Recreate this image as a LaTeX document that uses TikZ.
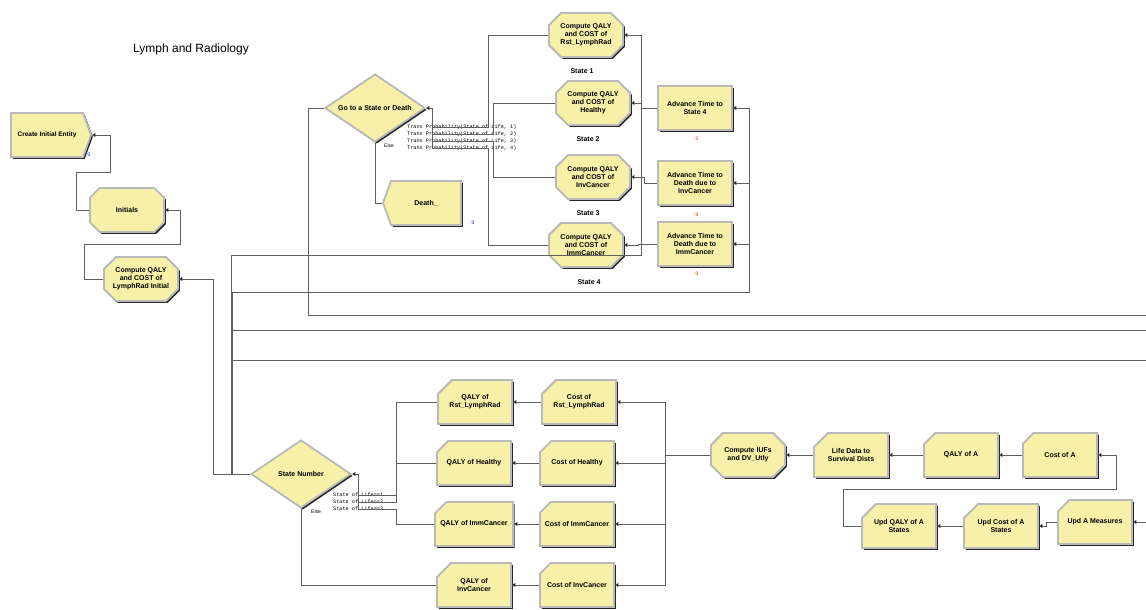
\documentclass[tikz,border=0pt]{standalone}
\usepackage{fontspec}
\setmainfont{Liberation Sans}
\setmonofont{Liberation Mono}
\usetikzlibrary{shapes.geometric,shapes.misc,shapes.symbols,shadows,arrows.meta,calc}
\definecolor{modyellow}{RGB}{246,240,168}
\definecolor{linegray}{RGB}{95,95,95}

\begin{document}
\begin{tikzpicture}[x=1pt,y=-1pt,
  mod/.style={fill=modyellow,draw=gray!55,line width=1.8pt,
    drop shadow={shadow xshift=1.8pt,shadow yshift=-1.8pt,fill=black!85,opacity=1},
    font=\bfseries\fontsize{7}{7.8}\selectfont,align=center,inner sep=1pt,
    minimum width=74pt,minimum height=44pt},
  assignbox/.style={mod,chamfered rectangle,chamfered rectangle xsep=6pt,chamfered rectangle ysep=6pt},
  processbox/.style={mod,rectangle},
  recordbox/.style={mod,chamfered rectangle,chamfered rectangle corners=north west,
    chamfered rectangle xsep=7pt,chamfered rectangle ysep=7pt},
  decidebox/.style={mod,diamond,aspect=1.5,minimum width=100pt,minimum height=68pt,inner sep=0pt},
  createbox/.style={mod,signal,signal to=east,signal pointer angle=140,minimum width=80pt,
    font=\bfseries\fontsize{6.5}{7.4}\selectfont},
  disposebox/.style={mod,signal,signal to=west,signal pointer angle=140,minimum width=78pt},
  conn/.style={draw=linegray,line width=0.5pt},
  outconn/.style={conn,{Triangle[length=3.5pt,width=4pt,fill=black]}-},
  lbl/.style={font=\bfseries\fontsize{7}{8}\selectfont,inner sep=0pt},
  cond/.style={font=\ttfamily\fontsize{5.2}{6}\selectfont,anchor=west,inner sep=0pt},
  elselbl/.style={font=\fontsize{5}{6}\selectfont,anchor=west,inner sep=0pt},
  cnt/.style={font=\fontsize{5}{5}\selectfont,inner sep=0pt}]
\useasboundingbox (0,0) rectangle (1146,610);

\node[font=\fontsize{12}{14}\selectfont] (title) at (191,49) {Lymph and Radiology};

\node[createbox] (create) at (47,135) {Create Initial Entity};
\node[assignbox] (initials) at (127,210) {Initials};
\node[assignbox] (cinit) at (141,279) {Compute QALY\\and COST of\\LymphRad Initial};

\node[decidebox] (goto) at (375,108) {Go to a State or Death};
\node[disposebox] (death) at (426,203) {Death\_};
\node[assignbox] (c1) at (586,35) {Compute QALY\\and COST of\\Rst\_LymphRad};
\node[assignbox] (c2) at (593,103) {Compute QALY\\and COST of\\Healthy};
\node[assignbox] (c3) at (593,177) {Compute QALY\\and COST of\\InvCancer};
\node[assignbox] (c4) at (586,245) {Compute QALY\\and COST of\\ImmCancer};
\node[processbox] (a4) at (695,108) {Advance Time to\\State 4};
\node[processbox] (ainv) at (695,183) {Advance Time to\\Death due to\\InvCancer};
\node[processbox] (aimm) at (695,244) {Advance Time to\\Death due to\\ImmCancer};

\node[decidebox] (snum) at (301,474) {State Number};
\node[recordbox] (q1) at (475,402) {QALY of\\Rst\_LymphRad};
\node[recordbox] (k1) at (579,402) {Cost of\\Rst\_LymphRad};
\node[recordbox] (q2) at (474,463) {QALY of Healthy};
\node[recordbox] (k2) at (577,463) {Cost of Healthy};
\node[recordbox] (q3) at (474,524) {QALY of ImmCancer};
\node[recordbox] (k3) at (577,524) {Cost of ImmCancer};
\node[recordbox] (q4) at (474,585) {QALY of\\InvCancer};
\node[recordbox] (k4) at (577,585) {Cost of InvCancer};

\node[assignbox] (iufs) at (748,455) {Compute IUFs\\and DV\_Utly};
\node[recordbox] (ldata) at (851,455) {Life Data to\\Survival Dists};
\node[recordbox] (qa) at (961,455) {QALY of A};
\node[recordbox] (ka) at (1060,455) {Cost of A};
\node[recordbox] (uqa) at (899,526) {Upd QALY of A\\States};
\node[recordbox] (uka) at (1001,526) {Upd Cost of A\\States};
\node[recordbox] (uam) at (1095,522) {Upd A Measures};

\foreach \i/\x/\y in {1/582/71,2/588/139,3/588/213,4/589/282}{\node[lbl] (st\i) at (\x,\y) {State \i};}
\foreach \i/\y in {1/127,2/134,3/141,4/148}{\node[cond] (tp\i) at (407,\y) {Trans Probability(State of Life, \i)};}
\foreach \i/\y in {1/495,2/502,3/509}{\node[cond] (sl\i) at (333,\y) {State of Life==\i};}
\node[elselbl] (else1) at (384,146) {Else};
\node[elselbl] (else2) at (311,512) {Else};
\foreach \n/\x/\y/\c in {zc/89/155/blue,zd/473/223/blue,z4/697/139/red,zinv/697/215/red,zimm/697/274/red}{\node[cnt,text=\c] (\n) at (\x,\y) {0};}

\coordinate (r1) at (1146,315); \coordinate (r2) at (1146,330); \coordinate (r3) at (1146,360); \coordinate (r4) at (1146,522);
\coordinate (gx) at ([xshift=6pt]goto.east); \coordinate (sx) at ([xshift=6pt]snum.east);

\draw[outconn] (create.east) -- ++(18,0) |- ++(-34,37) |- (initials.west);
\draw[outconn] (initials.east) -- ++(15,0) |- ++(-96,34) |- (cinit.west);
\draw[outconn] (cinit.east) -- ++(34,0) |- (snum.west);
\draw[outconn] (c1.east) -- ++(17,0) |- ++(-410,220) |- (snum.west);
\draw[outconn] (a4.east) -- ++(16,0) |- ++(-517,184) |- (snum.west);
\draw[outconn] (ainv.east) -- ++(16,0);
\draw[outconn] (aimm.east) -- ++(16,0);
\draw[conn] (r1) -| ([xshift=-16pt]goto.west) -- (goto.west);
\draw[conn] (r2) -| ([xshift=-18pt]snum.west) -- (snum.west);
\draw[conn] (r3) -| ([xshift=-18pt]snum.west);

\draw[outconn] (goto.east) -- (gx) -- (gx |- tp4.west);
\foreach \i/\dx in {1/56,2/61,3/61,4/56}{\draw[conn] (gx |- tp\i.west) -- ++(\dx,0) |- (c\i.west);}
\draw[conn] (goto.south) |- (death.west);
\draw[outconn] (c2.east) -- ++(10,0) |- (a4.west);
\draw[outconn] (c3.east) -- ++(13,0) |- (ainv.west);
\draw[outconn] (c4.east) -- ++(14,0) |- (aimm.west);

\draw[outconn] (snum.east) -- (sx) -- (sx |- sl3.west);
\foreach \i in {1,2,3}{\draw[conn] (sx |- sl\i.west) -- ++(38,0) |- (q\i.west);}
\draw[conn] (snum.south) |- (q4.west);
\foreach \i in {1,...,4}{
  \draw[outconn] (q\i.east) -- (k\i.west);
  \draw[outconn] (k\i.east) -| ([xshift=-45pt]iufs.west) -- (iufs.west);
}
\draw[outconn] (iufs.east) -- (ldata.west);
\draw[outconn] (ldata.east) -- (qa.west);
\draw[outconn] (qa.east) -- (ka.west);
\draw[outconn] (ka.east) -- ++(18,0) |- ++(-273,34) |- (uqa.west);
\draw[outconn] (uqa.east) -- (uka.west);
\draw[outconn] (uka.east) -- ++(7,0) |- (uam.west);
\draw[outconn] (uam.east) -- (r4);
\end{tikzpicture}
\end{document}
